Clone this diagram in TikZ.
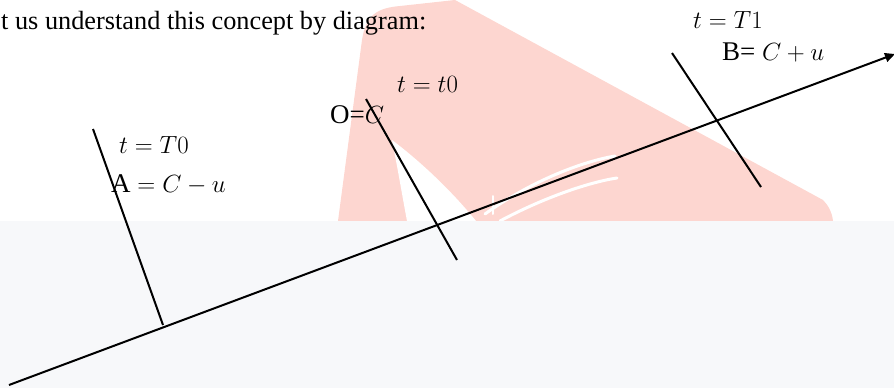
\documentclass[tikz,border=0pt]{standalone}
\usepackage{fontspec}
\setmainfont{Liberation Serif}
\usetikzlibrary{arrows.meta}
\definecolor{wmpink}{RGB}{253,214,208}
\definecolor{panelgray}{RGB}{247,248,250}
\tikzset{
  axisline/.style={line width=2pt, -{Triangle[length=10pt,width=9pt]}},
  tickline/.style={line width=2pt},
  lbl/.style={anchor=base west, inner sep=0pt, font=\rmfamily\fontsize{25.5}{28}\selectfont},
  mlbl/.style={anchor=base west, inner sep=0pt, font=\rmfamily\fontsize{27}{29}\selectfont},
  heading/.style={anchor=base west, inner sep=0pt, font=\rmfamily\fontsize{26.3}{30}\selectfont}
}
\begin{document}
\begin{tikzpicture}[x=1pt,y=-1pt]
\useasboundingbox (0,0) rectangle (894,388);
% watermark
\fill[wmpink] (338,221) -- (362,40) .. controls (366,14) and (378,8) .. (400,6) -- (455,0) -- (823,200) .. controls (828,205) and (832,212) .. (833,221) -- cycle;
\fill[white] (392,140) .. controls (398,170) and (403,200) .. (407,221) -- (476,221) .. controls (455,195) and (425,165) .. (392,140) -- cycle;
\draw[white, line width=3pt, line cap=round] (485,214) .. controls (530,182) and (580,162) .. (615,156);
\draw[white, line width=3pt, line cap=round] (500,221) .. controls (545,197) and (590,182) .. (617,178);
\draw[white, line width=2pt, line cap=round] (493,196) -- (493,214);
% bottom panel
\fill[panelgray] (0,221) rectangle (894,388);
% geometry
\coordinate (s) at (9,385);
\coordinate (e) at (895,54);
\coordinate (a1) at (93,129);
\coordinate (a2) at (163,325);
\coordinate (o1) at (366,99);
\coordinate (o2) at (457,260);
\coordinate (b1) at (672,53);
\coordinate (b2) at (761,187);
\draw[axisline] (s) -- (e);
\draw[tickline] (a1) -- (a2);
\draw[tickline] (o1) -- (o2);
\draw[tickline] (b1) -- (b2);
% texts
\node[heading] (head) at (1,29) {t us understand this concept by diagram:};
\node[mlbl] (tT0) at (119,153) {$t = T0$};
\node[mlbl] (A) at (111,192) {A $= C - u$};
\node[mlbl] (tt0) at (397,92) {$t = t0$};
\node[mlbl] (O) at (330,123) {O=$C$};
\node[mlbl] (tT1) at (693,28) {$t = T1$};
\node[mlbl] (B) at (722,60) {B= $C + u$};
\end{tikzpicture}
\end{document}
